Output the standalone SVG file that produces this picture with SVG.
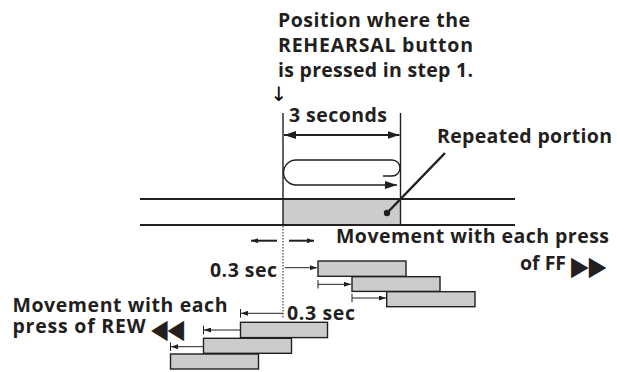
<svg xmlns="http://www.w3.org/2000/svg" width="617" height="372" viewBox="0 0 617 372">
<style>
text{font-family:"Open Sans","Liberation Sans",sans-serif;font-weight:bold;font-size:19.5px;fill:#231f20}
text.sym{font-family:"DejaVu Sans",sans-serif;font-weight:normal;font-size:27px}
text.arr{font-family:"DejaVu Sans",sans-serif;font-weight:normal;font-size:20px;fill:#000000}
.ln{stroke:#231f20;fill:none}
.bar{fill:#cccccc;stroke:#231f20;stroke-width:1.4}
.sa{stroke:#231f20;stroke-width:1;fill:none}
</style>
<defs>
<marker id="big" viewBox="0 0 12 8" refX="12" refY="4" markerWidth="12" markerHeight="8" markerUnits="userSpaceOnUse" orient="auto-start-reverse"><path d="M0,0 L12,4 L0,8 Z" fill="#231f20"/></marker>
<marker id="sm" viewBox="0 0 7 5" refX="7" refY="2.5" markerWidth="7" markerHeight="5" markerUnits="userSpaceOnUse" orient="auto"><path d="M0,0 L7,2.5 L0,5 Z" fill="#231f20"/></marker>
</defs>
<rect width="617" height="372" fill="#fff"/>

<g id="caption">
<text x="278" y="26.5" textLength="192">Position where the</text>
<text x="278" y="51.5" textLength="195">REHEARSAL button</text>
<text x="278" y="76.5" textLength="195">is pressed in step 1.</text>
<text class="arr" x="279" y="101" text-anchor="middle">↓</text>
</g>

<g id="tape">
<rect x="283" y="199" width="117.5" height="26" fill="#cccccc"/>
<line class="ln" x1="140" y1="199" x2="515" y2="199" stroke-width="2"/>
<line class="ln" x1="140" y1="225" x2="515" y2="225" stroke-width="2"/>
<line class="ln" x1="283" y1="113" x2="283" y2="226" stroke-width="1.4"/>
<line class="ln" x1="400.5" y1="113" x2="400.5" y2="226" stroke-width="1.4"/>
</g>

<g id="duration">
<text x="289" y="122" textLength="98">3 seconds</text>
<line class="ln" x1="284" y1="135" x2="399.5" y2="135" stroke-width="2" marker-start="url(#big)" marker-end="url(#big)"/>
</g>

<g id="loop">
<path class="ln" stroke-width="1.4" d="M383,176 L392,176 A8,8 0 0 0 392,160 L296,160 A12.5,12.5 0 0 0 296,185 L397,185" marker-end="url(#big)"/>
</g>

<g id="repeated">
<text x="437" y="143" textLength="175">Repeated portion</text>
<line class="ln" x1="387" y1="213" x2="445" y2="153" stroke-width="2.5"/>
<circle cx="387" cy="213" r="3.2" fill="#231f20"/>
</g>

<g id="connectors">
<line x1="283" y1="226" x2="283" y2="318" stroke="#231f20" stroke-width="1" stroke-dasharray="1.5,1.5"/>
<line class="ln" x1="277" y1="240.7" x2="251" y2="240.7" stroke-width="2" marker-end="url(#sm)"/>
<line class="ln" x1="289" y1="240.7" x2="314" y2="240.7" stroke-width="2" marker-end="url(#sm)"/>
<line class="sa" x1="285" y1="267.7" x2="317" y2="267.7" marker-end="url(#sm)"/>
<line class="sa" x1="318" y1="284.3" x2="351" y2="284.3" marker-end="url(#sm)"/>
<line class="sa" x1="318" y1="280" x2="318" y2="288.5"/>
<line class="sa" x1="352" y1="298" x2="386" y2="298" marker-end="url(#sm)"/>
<line class="sa" x1="352" y1="293.7" x2="352" y2="302.3"/>
<line class="sa" x1="283" y1="313.3" x2="241" y2="313.3" marker-end="url(#sm)"/>
<line class="sa" x1="240.5" y1="309" x2="240.5" y2="317.6"/>
<line class="sa" x1="240" y1="330" x2="204" y2="330" marker-end="url(#sm)"/>
<line class="sa" x1="203.5" y1="325.7" x2="203.5" y2="334.3"/>
<line class="sa" x1="203" y1="346.7" x2="171" y2="346.7" marker-end="url(#sm)"/>
<line class="sa" x1="170.5" y1="342.4" x2="170.5" y2="351"/>
</g>

<g id="ff">
<text x="336" y="243" textLength="273">Movement with each press</text>
<text x="520" y="270" textLength="46">of FF</text>
<text class="sym" transform="translate(571,275) scale(0.85,1)">▶▶</text>
<text x="210" y="277" textLength="67">0.3 sec</text>
<rect class="bar" x="318" y="261" width="88" height="15.3"/>
<rect class="bar" x="352" y="276.7" width="88" height="14.7"/>
<rect class="bar" x="386.7" y="291.7" width="88.3" height="15"/>
</g>

<g id="rew">
<text x="12.5" y="311.7" textLength="215">Movement with each</text>
<text x="12.5" y="333" textLength="133">press of REW</text>
<text class="sym" transform="translate(151,337.5) scale(0.8,1)">◀◀</text>
<text x="287" y="320" textLength="68">0.3 sec</text>
<rect class="bar" x="240.5" y="322.3" width="87" height="15.3"/>
<rect class="bar" x="203.5" y="338.3" width="88" height="15"/>
<rect class="bar" x="170.5" y="354" width="88" height="15"/>
</g>
</svg>
